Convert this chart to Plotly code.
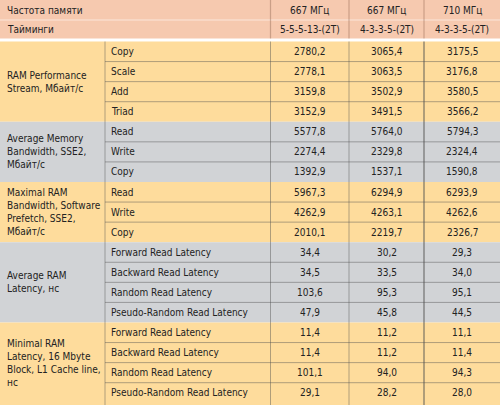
import plotly.graph_objects as go

header_left = ["Частота памяти", "Тайминги"]
freq = ["667 МГц", "667 МГц", "710 МГц"]
timings = ["5-5-5-13-(2T)", "4-3-3-5-(2T)", "4-3-3-5-(2T)"]

groups = [
    "RAM Performance\nStream, Мбайт/с",
    "Average Memory\nBandwidth, SSE2,\nМбайт/с",
    "Maximal RAM\nBandwidth, Software\nPrefetch, SSE2,\nМбайт/с",
    "Average RAM\nLatency, нс",
    "Minimal RAM\nLatency, 16 Mbyte\nBlock, L1 Cache line,\nнс",
]
group_sizes = [4, 3, 3, 4, 4]
tests = [
    "Copy", "Scale", "Add", "Triad",
    "Read", "Write", "Copy",
    "Read", "Write", "Copy",
    "Forward Read Latency", "Backward Read Latency", "Random Read Latency", "Pseudo-Random Read Latency",
    "Forward Read Latency", "Backward Read Latency", "Random Read Latency", "Pseudo-Random Read Latency",
]
col1 = ["2780,2", "2778,1", "3159,8", "3152,9", "5577,8", "2274,4", "1392,9", "5967,3", "4262,9", "2010,1",
        "34,4", "34,5", "103,6", "47,9", "11,4", "11,4", "101,1", "29,1"]
col2 = ["3065,4", "3063,5", "3502,9", "3491,5", "5764,0", "2329,8", "1537,1", "6294,9", "4263,1", "2219,7",
        "30,2", "33,5", "95,3", "45,8", "11,2", "11,2", "94,0", "28,2"]
col3 = ["3175,5", "3176,8", "3580,5", "3566,2", "5794,3", "2324,4", "1590,8", "6293,9", "4262,6", "2326,7",
        "29,3", "34,0", "95,1", "44,5", "11,1", "11,4", "94,3", "28,0"]

W, H = 500, 405
xs = [0, 105, 270.5, 349, 424, 500]  # column edges
hdr = [0, 20, 38.5]
top = 41.5
rh = 20.07
salmon = "#f6c9af"
fills = ["#fedc9c", "#d1d3d6"]
line = "rgba(80,80,80,0.45)"
txt = "#222222"
font = "DejaVu Sans Condensed, Liberation Sans, sans-serif"

fig = go.Figure()
shapes = []
ann = []

def text(x, y, s, anchor="left"):
    ann.append(dict(x=x, y=y, text=s, showarrow=False, xanchor=anchor, yanchor="middle",
                    font=dict(family=font, size=10, color=txt)))

# header
shapes.append(dict(type="rect", x0=0, x1=W, y0=hdr[0], y1=hdr[2], fillcolor=salmon, line_width=0, layer="below"))
shapes.append(dict(type="line", x0=0, x1=W, y0=hdr[1], y1=hdr[1], line=dict(color="#fbe6da", width=1)))
for x in xs[2:5]:
    shapes.append(dict(type="line", x0=x, x1=x, y0=0, y1=hdr[2], line=dict(color="rgba(120,80,60,0.35)", width=1.2)))
for i, lab in enumerate(header_left):
    yc = (hdr[i] + hdr[i + 1]) / 2
    text(5, yc, lab)
for j in range(3):
    xc = (xs[j + 2] + xs[j + 3]) / 2
    text(xc, (hdr[0] + hdr[1]) / 2, freq[j], "center")
    text(xc, (hdr[1] + hdr[2]) / 2, timings[j], "center")

# body
row = 0
for g, (gname, n) in enumerate(zip(groups, group_sizes)):
    y0 = top + row * rh
    y1 = top + (row + n) * rh if g < len(groups) - 1 else H
    shapes.append(dict(type="rect", x0=0, x1=W, y0=y0, y1=y1, fillcolor=fills[g % 2], line_width=0, layer="below"))
    lines = gname.split("\n")
    yc = top + (row + n / 2) * rh
    for k, ln in enumerate(lines):
        text(5, yc + (k - (len(lines) - 1) / 2) * 13, ln)
    for r in range(n):
        ry0 = top + (row + r) * rh
        if r > 0:
            shapes.append(dict(type="line", x0=xs[1], x1=W, y0=ry0, y1=ry0, line=dict(color=line, width=1)))
        ryc = ry0 + rh / 2
        idx = row + r
        text(xs[1] + 4, ryc, tests[idx])
        for j, col in enumerate([col1, col2, col3]):
            text((xs[j + 2] + xs[j + 3]) / 2, ryc, col[idx], "center")
    row += n

for k, x in enumerate(xs[1:5]):
    shapes.append(dict(type="line", x0=x, x1=x, y0=top, y1=H,
                       line=dict(color=line, width=2 if k == 3 else 1)))

fig.update_layout(
    width=W, height=H, margin=dict(l=0, r=0, t=0, b=0),
    paper_bgcolor="white", plot_bgcolor="white",
    xaxis=dict(range=[0, W], visible=False, fixedrange=True),
    yaxis=dict(range=[H, 0], visible=False, fixedrange=True),
    shapes=shapes, annotations=ann, showlegend=False,
)
fig.write_html("out.html", config={"displayModeBar": False},
               post_script="document.body.style.margin='0';document.body.style.overflow='hidden';")
